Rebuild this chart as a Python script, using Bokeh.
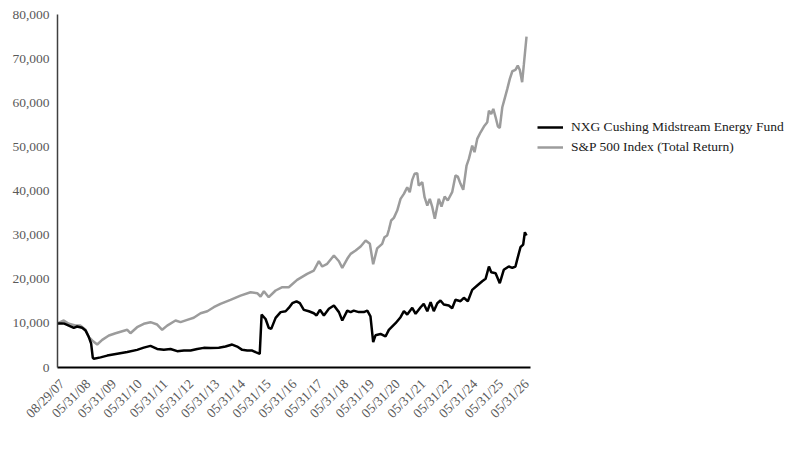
from bokeh.plotting import figure
from bokeh.models import Range1d, FixedTicker, NumeralTickFormatter, Legend, LegendItem
from bokeh.embed import file_html
from bokeh.resources import INLINE
import math

# Month offsets from 08/29/07 and growth of $10,000
fund_months = [0, 3.0, 5.4, 7.8, 9.4, 11.8, 13.4, 15.0, 16.1, 16.9, 17.4, 20.6, 23.8, 28.6, 33.4,
               38.1, 41.3, 44.5, 47.7, 50.9, 54.1, 57.3, 60.5, 63.7, 66.9, 70.0, 73.2, 77.2, 80.4,
               83.6, 86.0, 88.4, 90.8, 93.2, 94.8, 96.8, 97.7, 99.6, 101.1, 102.3, 104.4, 106.8,
               109.2, 110.7, 112.4, 114.4, 116.0, 117.9, 120.3, 122.7, 124.0, 125.6, 127.5, 129.9,
               132.3, 134.7, 136.3, 138.7, 140.3, 141.8, 144.2, 146.6, 148.3, 149.8, 151.1, 152.2,
               154.6, 157.0, 158.6, 161.8, 164.2, 165.8, 167.4, 169.8, 171.4, 173.8, 175.3, 177.0,
               178.6, 180.1, 181.8, 183.3, 184.9, 187.3, 188.9, 190.5, 192.9, 194.5, 196.4, 198.5,
               200.9, 203.3, 204.9, 206.5, 207.6, 209.7, 211.7, 213.6, 216.0, 217.7, 219.2, 220.0,
               221.6, 222.9, 223.7, 224.5]
fund_values = [10000, 10000, 9500, 9000, 9300, 9000, 8400, 6900, 5400, 2200, 2000, 2300, 2700, 3100,
               3500, 4000, 4500, 4900, 4200, 4000, 4200, 3700, 3850, 3850, 4200, 4450, 4400, 4500,
               4750, 5200, 4750, 4000, 3850, 3850, 3470, 3100, 12000, 11000, 9000, 8750, 11250,
               12550, 12750, 13500, 14570, 15000, 14570, 13070, 12750, 12300, 11800, 13070, 11800,
               13300, 14050, 12550, 10650, 12900, 12550, 12900, 12550, 12550, 12900, 11600, 5730,
               7300, 7600, 7030, 8540, 10040, 11400, 12760, 12010, 13530, 12170, 13660, 14430,
               12760, 14800, 12760, 14570, 15180, 14280, 14050, 13440, 15340, 15030, 15790, 15030,
               17600, 18580, 19550, 20100, 22890, 21600, 21370, 19100, 22140, 22890, 22590, 22890,
               24400, 27260, 27870, 30660, 29910]

index_months = [0, 3.0, 5.4, 8.6, 11.0, 13.4, 15.0, 16.6, 19.0, 21.4, 24.6, 27.8, 31.0, 33.4, 34.9,
                38.1, 41.3, 44.5, 47.7, 50.1, 52.5, 56.5, 58.9, 62.1, 65.2, 68.5, 71.7, 74.8, 78.0,
                82.8, 87.6, 92.4, 95.6, 97.2, 98.8, 101.1, 104.4, 107.6, 110.7, 114.7, 119.5, 122.7,
                125.1, 126.7, 129.1, 132.3, 134.7, 136.3, 138.7, 140.3, 142.7, 145.1, 147.5, 149.5,
                151.1, 153.0, 155.4, 156.5, 157.8, 158.6, 159.7, 161.0, 162.6, 164.2, 165.8, 167.4,
                168.6, 169.8, 170.9, 172.2, 172.9, 174.6, 175.7, 177.0, 178.2, 179.4, 180.6, 182.5,
                183.8, 185.3, 186.8, 188.9, 190.5, 191.6, 192.9, 194.2, 195.8, 196.9, 198.5, 199.6,
                200.9, 202.5, 204.1, 205.7, 206.5, 207.6, 208.6, 209.7, 210.8, 211.7, 212.9, 214.0,
                215.3, 216.5, 217.7, 219.2, 220.3, 221.3, 222.4, 223.2, 224.5]
index_values = [10000, 10650, 9900, 9500, 9500, 8540, 6870, 6120, 5210, 6270, 7250, 7770, 8230, 8540,
                7770, 9130, 9900, 10270, 9740, 8540, 9500, 10650, 10270, 10800, 11260, 12300, 12760,
                13660, 14430, 15340, 16300, 17060, 16840, 16090, 17290, 15930, 17450, 18200, 18200,
                19870, 21230, 21980, 24090, 22890, 23500, 25380, 24090, 22590, 24630, 25760, 26510,
                27420, 28780, 28030, 23400, 27000, 28030, 29520, 29910, 31200, 33310, 33910, 35570,
                38220, 39350, 40860, 39730, 42530, 43890, 44040, 41240, 41990, 38590, 36710, 38220,
                36330, 33700, 38220, 36480, 38750, 37840, 39730, 43510, 43280, 41620, 40270, 45770,
                47280, 50300, 48790, 51800, 53310, 54610, 55570, 58220, 57470, 58600, 56710, 54610,
                54300, 58980, 60870, 63140, 65400, 67140, 67440, 68420, 67440, 64650, 68570, 75000]

tick_labels = ["08/29/07", "05/31/08", "05/31/09", "05/31/10", "05/31/11", "05/31/12", "05/31/13",
               "05/31/14", "05/31/15", "05/31/16", "05/31/17", "05/31/18", "05/31/19", "05/31/20",
               "05/31/21", "05/31/22", "05/31/24", "05/31/25", "05/31/26"]
y_ticks = [0, 10000, 20000, 30000, 40000, 50000, 60000, 70000, 80000]

series_names = ["NXG Cushing Midstream Energy Fund", "S&P 500 Index (Total Return)"]

FONT = "Liberation Serif"

# axis spans 0..226.4 months over 473 px; frame is widened to host the legend on the right
AXIS_END = 226.4
FRAME_W = 743
p = figure(width=800, height=450, output_backend="svg", toolbar_location=None,
           min_border_left=57, min_border_right=0, min_border_top=14, min_border_bottom=83)
p.x_range = Range1d(0, AXIS_END * FRAME_W / 473)
p.y_range = Range1d(0, 80000)
p.xgrid.visible = False
p.ygrid.visible = False
p.outline_line_color = None
p.background_fill_color = "white"
p.border_fill_color = "white"

tick_pos = [2.25 + 12.35 * k for k in range(len(tick_labels))]
p.xaxis.bounds = (0, AXIS_END)
p.xaxis.ticker = FixedTicker(ticks=tick_pos)
p.xaxis.major_label_overrides = {t: lab for t, lab in zip(tick_pos, tick_labels)}
p.xaxis.major_label_orientation = math.pi / 4
p.xaxis.axis_line_color = "#000000"
p.xaxis.axis_line_width = 2
p.xaxis.major_tick_out = 0
p.xaxis.major_tick_in = 0
p.xaxis.minor_tick_out = 0
p.xaxis.minor_tick_in = 0
p.xaxis.major_label_standoff = 14
p.xaxis.major_label_text_font = FONT
p.xaxis.major_label_text_font_size = "13.5px"
p.xaxis.major_label_text_color = "#595959"

p.yaxis.ticker = FixedTicker(ticks=y_ticks)
p.yaxis.formatter = NumeralTickFormatter(format="0,0")
p.yaxis.axis_line_color = "#404040"
p.yaxis.axis_line_width = 1.5
p.yaxis.major_tick_out = 0
p.yaxis.major_tick_in = 0
p.yaxis.minor_tick_out = 0
p.yaxis.minor_tick_in = 0
p.yaxis.major_label_standoff = 8
p.yaxis.major_label_text_font = FONT
p.yaxis.major_label_text_font_size = "13.5px"
p.yaxis.major_label_text_color = "#595959"

r_index = p.line(index_months, index_values, line_color="#9c9c9c", line_width=2.5)
r_fund = p.line(fund_months, fund_values, line_color="#000000", line_width=2.5)

legend = Legend(items=[LegendItem(label=series_names[0], renderers=[r_fund]),
                       LegendItem(label=series_names[1], renderers=[r_index])],
                location=(480, 210), orientation="vertical")
legend.border_line_color = None
legend.background_fill_alpha = 0
legend.padding = 0
legend.margin = 0
legend.spacing = 0
legend.glyph_width = 26
legend.glyph_height = 20
legend.label_height = 20
legend.label_standoff = 8
legend.label_text_font = FONT
legend.label_text_font_size = "13.5px"
legend.label_text_color = "#1a1a1a"
p.add_layout(legend, "center")

open("out.html", "w").write(file_html(p, INLINE))
